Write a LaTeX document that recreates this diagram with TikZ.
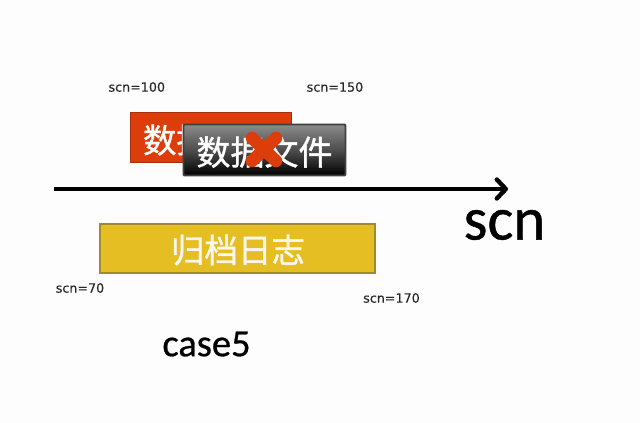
\documentclass[tikz,border=0pt]{standalone}
\usepackage{fontspec}
\setmainfont{Carlito}
\newfontfamily\cjk[FakeBold=1]{Noto Sans CJK SC}
\newfontfamily\smallf[FakeBold=0.2]{DejaVu Sans}
\newfontfamily\bigf[FakeBold=0.7]{Carlito}
\usetikzlibrary{arrows.meta}
\definecolor{bg}{HTML}{FDFDFD}
\definecolor{redbox}{HTML}{DC3D0A}
\definecolor{redline}{HTML}{A8300E}
\definecolor{yel}{HTML}{E5BE24}
\definecolor{yelline}{HTML}{A08A2E}
\definecolor{txtw}{HTML}{FBF7EE}
\tikzset{
  x=1pt,y=-1pt,
  boxtext/.style={inner sep=0pt,text=white,font=\cjk\fontsize{33.5}{34}\selectfont},
  lab/.style={inner sep=0pt,text=black!85,font=\smallf\fontsize{12.7}{14}\selectfont},
  big/.style={inner sep=0pt,text=black,font=\bigf\fontsize{38.5}{40}\selectfont},
}
\begin{document}
\begin{tikzpicture}
\useasboundingbox[fill=bg] (0,0) rectangle (640,423);
% red box
\node[draw=redline,line width=1pt,fill=redbox,minimum width=161pt,minimum height=50pt,inner sep=0pt] (redb) at (210.5,137) {};
\node[boxtext] (redt) at (210,140) {数据文件};
% dark box
\node[draw=black!75,line width=1.8pt,top color=black!45,bottom color=black,middle color=black!70,minimum width=162pt,minimum height=51pt,inner sep=0pt,rounded corners=1pt] (darkb) at (264.5,150) {};
\node[boxtext,font=\cjk\fontsize{34}{34}\selectfont] (darkt) at (264.5,152) {数据文件};
% red cross
\coordinate (xa) at (252,138);
\coordinate (xb) at (276,161);
\coordinate (xc) at (276,138);
\coordinate (xd) at (252,161);
\draw[redbox,line width=12.5pt,line cap=round] (xa) -- (xb);
\draw[redbox,line width=12.5pt,line cap=round] (xc) -- (xd);
% arrow
\coordinate (as) at (54,189);
\coordinate (ae) at (508,189);
\draw[line width=3.8pt,-{Straight Barb[length=9pt,width=19pt,line width=4.4pt,round]}] (as) -- (ae);
% yellow box
\node[draw=yelline,line width=1.2pt,fill=yel,minimum width=275pt,minimum height=49pt,inner sep=0pt] (yb) at (237.5,248.5) {};
\node[boxtext,text=txtw] (yt) at (238,250) {归档日志};
% labels
\node[lab] (l100) at (136.8,87) {scn=100};
\node[lab] (l150) at (335,87) {scn=150};
\node[lab] (l70) at (80,288) {scn=70};
\node[lab] (l170) at (391.5,298) {scn=170};
\node[big,font=\bigf\fontsize{61}{62}\selectfont] (scn) at (504.5,225) {scn};
\node[big] (case) at (206.5,344) {case5};
\end{tikzpicture}
\end{document}
